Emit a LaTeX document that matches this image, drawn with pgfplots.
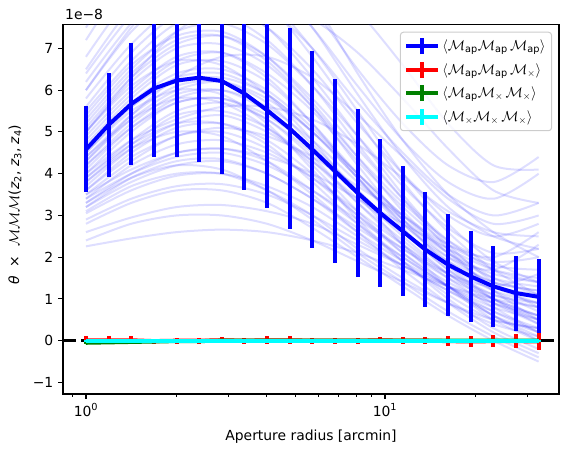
\documentclass[border=0pt]{standalone}
\usepackage{amsmath}
\usepackage{fontspec}
\setmainfont{DejaVu Sans}
\usepackage{pgfplots}
\usepackage{pgfplotstable}
\pgfplotsset{compat=1.18}
\definecolor{mplblue}{RGB}{0,0,255}
\definecolor{mplred}{RGB}{255,0,0}
\definecolor{mplgreen}{RGB}{0,128,0}
\definecolor{mplcyan}{RGB}{0,255,255}

\pgfplotstableread{
id v0 v1 v2 v3 v4 v5 v6 v7 v8 v9 v10
x 1.0000 1.4173 2.0085 2.8466 4.0344 5.7180 8.1040 11.477 16.264 23.050 32.660
c1 2.26 2.45 2.6 2.66 2.6 2.4 2.1 1.7 1.3 1.0 0.8
c2 2.6 2.95 3.2 3.25 3.1 2.8 2.3 1.8 1.3 0.9 0.6
c3 2.9 3.4 3.7 3.75 3.5 3.0 2.4 1.8 1.2 0.7 0.3
c4 3.05 3.6 3.95 4.0 3.7 3.2 2.5 1.8 1.2 0.6 0.2
c5 3.2 3.9 4.3 4.35 4.0 3.4 2.6 1.9 1.3 0.8 0.5
c6 3.3 4.0 4.5 4.6 4.3 3.6 2.8 2.0 1.3 0.7 0.2
c7 3.4 4.2 4.7 4.8 4.5 3.9 3.1 2.3 1.6 1.1 0.9
c8 3.5 4.3 4.9 5.0 4.6 3.9 3.0 2.2 1.5 1.0 0.6
c9 3.6 4.5 5.1 5.2 4.8 4.0 3.0 2.1 1.4 0.9 0.5
c10 3.7 4.6 5.2 5.4 5.0 4.3 3.4 2.6 1.9 1.4 1.2
c11 3.8 4.7 5.4 5.5 5.1 4.3 3.3 2.4 1.6 1.0 0.6
c12 3.9 4.8 5.5 5.7 5.3 4.5 3.5 2.6 1.7 1.1 0.8
c13 4.0 5.0 5.7 5.8 5.4 4.6 3.6 2.6 1.8 1.2 0.9
c14 4.1 5.1 5.8 6.0 5.6 4.8 3.8 2.9 2.1 1.6 1.4
c15 4.2 5.2 5.9 6.0 5.5 4.6 3.5 2.5 1.6 0.9 0.4
c16 4.3 5.3 6.0 6.2 5.8 5.0 4.0 3.0 2.2 1.5 1.1
c17 4.4 5.4 6.1 6.2 5.7 4.7 3.6 2.6 1.8 1.3 1.1
c18 4.5 5.6 6.3 6.4 5.9 5.0 3.9 2.8 1.9 1.2 0.7
c19 4.6 5.7 6.4 6.5 6.0 5.1 4.0 3.0 2.1 1.5 1.3
c20 4.7 5.8 6.6 6.7 6.2 5.2 4.0 2.9 2.0 1.4 1.2
c21 4.8 5.9 6.7 6.9 6.4 5.5 4.3 3.2 2.3 1.8 1.7
c22 4.9 6.0 6.8 6.9 6.3 5.2 3.9 2.7 1.7 1.0 0.5
c23 5.0 6.2 7.0 7.1 6.6 5.6 4.4 3.3 2.4 1.9 2.0
c24 5.1 6.3 7.1 7.3 6.8 5.8 4.6 3.4 2.4 1.7 1.4
c25 5.2 6.4 7.2 7.3 6.7 5.6 4.2 2.9 1.8 1.0 0.4
c26 5.3 6.5 7.4 7.6 7.1 6.1 4.9 3.7 2.7 2.1 2.2
c27 5.5 6.7 7.6 7.8 7.2 6.1 4.7 3.4 2.2 1.2 0.5
c28 5.6 6.9 7.8 8.0 7.5 6.5 5.2 4.0 3.0 2.5 2.8
c29 5.8 7.1 8.0 8.1 7.5 6.3 4.9 3.5 2.3 1.4 0.8
c30 6.0 7.4 8.3 8.5 8.0 7.0 5.7 4.5 3.5 3.0 3.3
c31 6.2 7.6 8.6 8.8 8.2 7.0 5.5 4.0 2.8 1.9 1.4
c32 6.5 8.0 9.0 9.2 8.6 7.5 6.1 4.8 3.8 3.4 4.0
c33 6.8 8.3 9.3 9.5 8.8 7.5 5.9 4.4 3.2 2.5 2.2
c34 7.2 8.8 9.8 10.0 9.3 8.0 6.5 5.2 4.2 3.8 4.4
c35 7.5 9.2 10.2 10.4 9.6 8.2 6.4 4.8 3.5 2.6 2.0
c36 3.5 4.1 4.5 4.6 4.4 4.0 3.4 2.8 2.2 1.7 1.5
c37 4.0 4.8 5.3 5.6 5.6 5.3 4.7 3.9 3.1 2.6 2.5
c38 4.3 5.4 6.3 6.8 6.8 6.3 5.4 4.4 3.4 2.8 3.0
c39 3.3 3.9 4.2 4.1 3.6 2.9 2.1 1.4 0.7 0.1 -0.4
c40 3.8 4.6 5.0 4.9 4.3 3.5 2.6 1.7 0.9 0.2 -0.3
c41 4.5 5.5 6.0 5.9 5.2 4.1 2.9 1.9 1.0 0.3 -0.2
c42 5.0 6.1 6.7 6.6 5.9 4.8 3.5 2.3 1.3 0.5 0.0
c43 3.6 4.4 4.9 5.1 4.9 4.4 3.7 3.0 2.3 2.0 2.6
c44 4.6 5.6 6.2 6.3 5.9 5.0 3.9 2.8 2.0 1.7 2.3
c45 5.4 6.6 7.3 7.4 6.8 5.7 4.4 3.1 2.1 1.3 0.9
c46 3.4 4.0 4.4 4.5 4.2 3.6 2.9 2.2 1.6 1.3 1.6
c47 4.2 5.1 5.7 5.8 5.3 4.4 3.3 2.3 1.5 0.8 0.2
c48 6.4 7.8 8.7 8.8 8.1 6.8 5.3 3.8 2.6 1.7 1.1
c49 6.0 7.5 8.7 9.3 9.3 8.8 7.9 6.6 5.2 4.2 4.1
c50 5.0 6.3 7.4 8.0 8.1 7.7 6.9 5.8 4.6 3.6 3.3
c51 2.8 3.3 3.6 3.6 3.3 2.7 2.0 1.3 0.6 0.0 -0.5
c52 3.1 3.7 4.0 4.0 3.6 3.0 2.2 1.5 0.9 0.4 0.1
c53 3.9 4.7 5.2 5.2 4.7 3.8 2.8 1.9 1.1 0.5 0.3
c54 4.4 5.3 5.8 5.7 5.1 4.2 3.1 2.1 1.3 0.6 0.0
c55 3.2 3.8 4.2 4.3 4.0 3.4 2.7 2.0 1.3 0.6 0.1
c56 2.4 2.8 3.0 3.0 2.8 2.4 1.9 1.4 0.9 0.5 0.3
}\faintraw
\pgfplotstabletranspose[colnames from=id]\faint\faintraw

\pgfplotstableread{
x y e
1.0000 4.58 1.03
1.1905 5.17 1.24
1.4173 5.67 1.45
1.6871 6.04 1.63
2.0085 6.23 1.82
2.3911 6.30 2.02
2.8466 6.22 2.22
3.3889 5.92 2.32
4.0344 5.52 2.35
4.8030 5.08 2.40
5.7180 4.58 2.35
6.8063 4.06 2.21
8.1040 3.54 2.01
9.6406 3.06 1.78
11.477 2.62 1.56
13.662 2.18 1.37
16.264 1.82 1.22
19.364 1.54 1.09
23.050 1.30 0.97
27.440 1.14 0.90
32.660 1.05 0.90
}\apapap

\pgfplotstableread{
x y e
1.0000 0.01 0.10
1.1905 0.01 0.10
1.4173 0.01 0.10
1.6871 -0.01 0.06
2.0085 0.00 0.07
2.3911 0.00 0.07
2.8466 0.01 0.07
3.3889 0.00 0.07
4.0344 0.01 0.10
4.8030 0.01 0.10
5.7180 0.00 0.07
6.8063 0.00 0.07
8.1040 0.00 0.07
9.6406 0.01 0.07
11.477 0.00 0.08
13.662 0.00 0.08
16.264 -0.01 0.12
19.364 -0.02 0.14
23.050 -0.01 0.15
27.440 -0.01 0.17
32.660 -0.02 0.21
}\apapx

\pgfplotstableread{
x y e
1.0000 -0.05 0.03
1.1905 -0.04 0.03
1.4173 -0.03 0.03
1.6871 -0.02 0.02
2.0085 -0.01 0.02
2.3911 -0.01 0.02
2.8466 0.00 0.02
3.3889 0.00 0.02
4.0344 0.00 0.02
4.8030 0.00 0.02
5.7180 0.00 0.02
6.8063 0.00 0.02
8.1040 0.00 0.02
9.6406 0.00 0.02
11.477 0.00 0.02
13.662 0.00 0.02
16.264 0.00 0.02
19.364 0.00 0.02
23.050 0.00 0.02
27.440 0.00 0.02
32.660 0.00 0.02
}\apxx

\pgfplotstableread{
x y e
1.0000 0.00 0.01
1.1905 0.00 0.01
1.4173 0.00 0.01
1.6871 0.00 0.01
2.0085 0.00 0.01
2.3911 0.00 0.01
2.8466 0.00 0.01
3.3889 0.00 0.01
4.0344 0.00 0.01
4.8030 0.00 0.01
5.7180 0.00 0.01
6.8063 0.00 0.01
8.1040 0.00 0.01
9.6406 0.00 0.01
11.477 0.00 0.01
13.662 0.00 0.01
16.264 0.00 0.01
19.364 0.00 0.01
23.050 0.00 0.01
27.440 0.00 0.01
32.660 0.00 0.01
}\xxx

\begin{document}
\fontsize{13.9bp}{16bp}\selectfont
\begin{tikzpicture}
\begin{axis}[
  scale only axis,
  width=496bp, height=369.3bp,
  at={(0,0)}, anchor=south west,
  xmode=log,
  xmin=0.838, xmax=38.2,
  ymin=-1.277, ymax=7.569,
  xtick={1,10},
  xticklabels={10\textsuperscript{0},10\textsuperscript{1}},
  minor xtick={0.9,2,3,4,5,6,7,8,9,20,30},
  ytick={-1,0,1,2,3,4,5,6,7},
  yticklabels={−1,0,1,2,3,4,5,6,7},
  minor ytick={},
  xtick pos=bottom, ytick pos=left,
  tick align=outside,
  major tick length=4.9bp,
  minor tick length=2.8bp,
  every tick/.style={black, line width=1.1bp},
  minor tick style={line width=0.83bp},
  axis line style={line width=1.1bp},
  tick label style={font=\fontsize{13.9bp}{16bp}\selectfont},
  label style={font=\fontsize{13.9bp}{16bp}\selectfont},
  xlabel={Aperture radius [arcmin]},
  xlabel style={at={(axis description cs:0.5,0)}, anchor=base, yshift=-46bp},
  ylabel={\itshape θ\upshape\ \ ×\ \ $\mathcal{M}\mathcal{M}\mathcal{M}$(\itshape z\upshape\textsubscript{2}, \itshape z\upshape\textsubscript{3}, \itshape z\upshape\textsubscript{4})},
  ylabel style={at={(axis description cs:-0.0968,0.5126)}, anchor=center, rotate=0},
  legend cell align=left,
  legend style={
    at={(0.986,0.981)}, anchor=north east,
    draw=black!20, line width=1bp, rounded corners=3bp,
    fill=white, fill opacity=0.8, text opacity=1,
    font=\fontsize{13.9bp}{16bp}\selectfont,
    row sep=3.5bp, inner xsep=4bp, inner ysep=4bp,
  },
  legend image code/.code={
    \draw[line width=4bp] (0bp,0bp) -- (32bp,0bp);
    \draw[line width=4bp] (16bp,-8bp) -- (16bp,8bp);
  },
]
\pgfplotsinvokeforeach{1,...,56}{
  \addplot[mplblue, opacity=0.13, line width=2bp, smooth, forget plot] table[x=x, y=c#1] {\faint};
}
\addplot[black, line width=3.5bp, dash pattern=on 12.8bp off 5.6bp, forget plot] coordinates {(0.838,0) (38.2,0)};
\addplot[mplblue, line width=4bp,
  error bars/.cd, y dir=both, y explicit, error mark=none,
  error bar style={line width=4bp}] table[x=x, y=y, y error=e] {\apapap};
\addlegendentry{$\langle\mathcal{M}_{\text{ap}}\mathcal{M}_{\text{ap}}\,\mathcal{M}_{\text{ap}}\rangle$}
\addplot[mplred, line width=4bp,
  error bars/.cd, y dir=both, y explicit, error mark=none,
  error bar style={line width=4bp}] table[x=x, y=y, y error=e] {\apapx};
\addlegendentry{$\langle\mathcal{M}_{\text{ap}}\mathcal{M}_{\text{ap}}\,\mathcal{M}_{\times}\rangle$}
\addplot[mplgreen, line width=4bp,
  error bars/.cd, y dir=both, y explicit, error mark=none,
  error bar style={line width=4bp}] table[x=x, y=y, y error=e] {\apxx};
\addlegendentry{$\langle\mathcal{M}_{\text{ap}}\mathcal{M}_{\times}\,\mathcal{M}_{\times}\rangle$}
\addplot[mplcyan, line width=4bp,
  error bars/.cd, y dir=both, y explicit, error mark=none,
  error bar style={line width=4bp}] table[x=x, y=y, y error=e] {\xxx};
\addlegendentry{$\langle\mathcal{M}_{\times}\mathcal{M}_{\times}\,\mathcal{M}_{\times}\rangle$}
\end{axis}
\node[anchor=base west, inner sep=0pt] at (2bp,374bp) {1e−8};
\pgfresetboundingbox
\path (-63bp,-58bp) rectangle (506bp,394bp);
\end{tikzpicture}
\end{document}
